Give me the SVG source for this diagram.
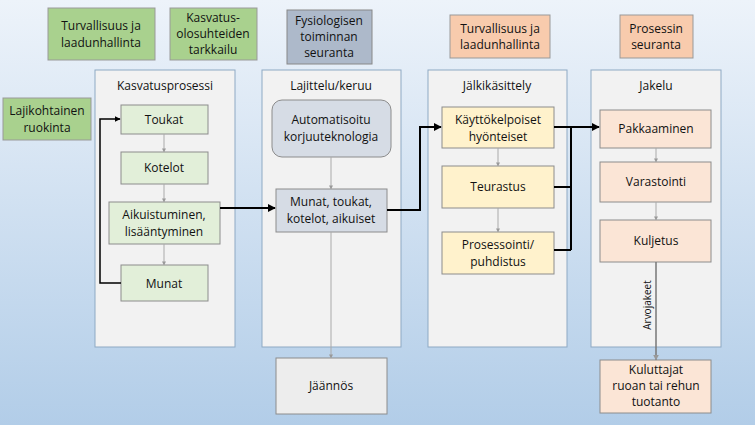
<svg xmlns="http://www.w3.org/2000/svg" width="755" height="425" viewBox="0 0 755 425">
<defs>
<linearGradient id="bg" x1="0" y1="0" x2="0" y2="1"><stop offset="0" stop-color="#edf3fa"/><stop offset="1" stop-color="#b2cde8"/></linearGradient>
<marker id="ab" viewBox="0 0 10 10" refX="9" refY="5" markerWidth="4" markerHeight="4" orient="auto"><path d="M0,0L10,5L0,10z" fill="#000"/></marker>
<marker id="ag" viewBox="0 0 10 10" refX="9" refY="5" markerWidth="4" markerHeight="4" orient="auto"><path d="M0,0L10,5L0,10z" fill="#999"/></marker>
<style>
text{font-family:"Open Sans","Liberation Sans",sans-serif;font-size:12px;fill:#111;text-anchor:middle}
.col{fill:#f2f2f2;stroke:#8ea9c4;stroke-width:1}
.g{fill:#e2efd9;stroke:#8c8c8c}
.gd{fill:#a9d18e;stroke:#999}
.y{fill:#fff2cc;stroke:#8c8c8c}
.o{fill:#fbe5d6;stroke:#8c8c8c}
.od{fill:#f8cbad;stroke:#999}
.s{fill:#d6dce5;stroke:#8c8c8c}
.sd{fill:#adb9ca;stroke:#888}
.gr{fill:#ededed;stroke:#8c8c8c}
.k{fill:none;stroke:#000;stroke-width:2}
.t{fill:none;stroke:#aaa;stroke-width:1}
</style>
</defs>
<rect width="755" height="425" fill="url(#bg)"/>
<g id="top1"><rect class="gd" x="48" y="8" width="107" height="52"/><text x="101" y="30">Turvallisuus ja</text><text x="101" y="47">laadunhallinta</text></g>
<g id="top2"><rect class="gd" x="170" y="8" width="87" height="52"/><text x="213" y="22">Kasvatus-</text><text x="213" y="38">olosuhteiden</text><text x="213" y="54">tarkkailu</text></g>
<g id="top3"><rect class="sd" x="287" y="10" width="85" height="54"/><text x="329" y="25">Fysiologisen</text><text x="329" y="41">toiminnan</text><text x="329" y="57">seuranta</text></g>
<g id="top4"><rect class="od" x="450" y="15" width="100" height="43"/><text x="500" y="33">Turvallisuus ja</text><text x="500" y="49">laadunhallinta</text></g>
<g id="top5"><rect class="od" x="620" y="15" width="73" height="43"/><text x="656" y="33">Prosessin</text><text x="656" y="49">seuranta</text></g>
<g id="c1"><rect class="col" x="95" y="70" width="140" height="277"/><text x="165" y="90">Kasvatusprosessi</text></g>
<g id="c2"><rect class="col" x="262" y="70" width="139" height="277"/><text x="331" y="90">Lajittelu/keruu</text></g>
<g id="c3"><rect class="col" x="428" y="70" width="139" height="277"/><text x="497" y="90">Jälkikäsittely</text></g>
<g id="c4"><rect class="col" x="591" y="70" width="130" height="277"/><text x="656" y="90">Jakelu</text></g>
<g id="feed"><rect class="gd" x="3" y="98" width="88" height="42"/><text x="47" y="115">Lajikohtainen</text><text x="47" y="132">ruokinta</text></g>
<g id="toukat"><rect class="g" x="121" y="105" width="87" height="29"/><text x="164" y="124">Toukat</text></g>
<g id="kotelot"><rect class="g" x="121" y="152" width="87" height="32"/><text x="164" y="172">Kotelot</text></g>
<g id="aikuist"><rect class="g" x="109" y="202" width="111" height="42"/><text x="164" y="219">Aikuistuminen,</text><text x="164" y="236">lisääntyminen</text></g>
<g id="munat"><rect class="g" x="121" y="265" width="87" height="36"/><text x="164" y="288">Munat</text></g>
<g id="auto"><rect class="s" x="272" y="100" width="119" height="57" rx="10"/><text x="331" y="124">Automatisoitu</text><text x="331" y="141">korjuuteknologia</text></g>
<g id="mtk"><rect class="s" x="276" y="189" width="111" height="43"/><text x="331" y="206">Munat, toukat,</text><text x="331" y="223">kotelot, aikuiset</text></g>
<g id="jaannos"><rect class="gr" x="276" y="358" width="111" height="56"/><text x="331" y="390">Jäännös</text></g>
<g id="kayt"><rect class="y" x="442" y="107" width="112" height="41"/><text x="498" y="124">Käyttökelpoiset</text><text x="498" y="141">hyönteiset</text></g>
<g id="teur"><rect class="y" x="442" y="166" width="112" height="42"/><text x="498" y="191">Teurastus</text></g>
<g id="pros"><rect class="y" x="442" y="232" width="112" height="42"/><text x="498" y="249">Prosessointi/</text><text x="498" y="266">puhdistus</text></g>
<g id="pakk"><rect class="o" x="600" y="110" width="111" height="38"/><text x="656" y="133">Pakkaaminen</text></g>
<g id="var"><rect class="o" x="600" y="162" width="111" height="40"/><text x="656" y="186">Varastointi</text></g>
<g id="kulj"><rect class="o" x="600" y="220" width="111" height="42"/><text x="656" y="245">Kuljetus</text></g>
<g id="kul"><rect class="o" x="600" y="360" width="111" height="53"/><text x="656" y="374">Kuluttajat</text><text x="656" y="390">ruoan tai rehun</text><text x="656" y="406">tuotanto</text></g>
<g id="connectors">
<path class="t" d="M164,134V152" marker-end="url(#ag)"/>
<path class="t" d="M164,184V202" marker-end="url(#ag)"/>
<path class="t" d="M164,244V265" marker-end="url(#ag)"/>
<path class="t" d="M331,157V189" marker-end="url(#ag)"/>
<path class="t" d="M331,232V358" marker-end="url(#ag)"/>
<path class="t" d="M498,148V166" marker-end="url(#ag)"/>
<path class="t" d="M498,208V232" marker-end="url(#ag)"/>
<path class="t" d="M656,148V162" marker-end="url(#ag)"/>
<path class="t" d="M656,202V220" marker-end="url(#ag)"/>
<path d="M656,262V360" fill="none" stroke="#777" stroke-width="1.5" marker-end="url(#ag)"/>
<text x="0" y="0" transform="translate(651,305) rotate(-90)" style="font-size:10px">Arvojakeet</text>
<path class="k" style="stroke-width:1.5" d="M121,283H100V119H120" marker-end="url(#ab)"/>
<path class="k" d="M220,208H275" marker-end="url(#ab)"/>
<path class="k" d="M387,210H420V127H441" marker-end="url(#ab)"/>
<path class="k" d="M554,127H599" marker-end="url(#ab)"/>
<path class="k" d="M554,187H571M554,250H571M571,127V250"/>
</g>
</svg>
